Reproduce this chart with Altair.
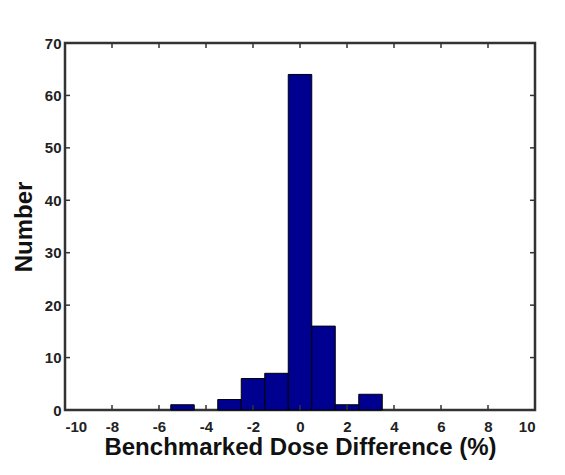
import altair as alt
import pandas as pd

# Histogram data (bin centers, counts), bin width 1
bin_centers = [-5, -3, -2, -1, 0, 1, 2, 3]
counts = [1, 2, 6, 7, 64, 16, 1, 3]
bin_width = 1.0

x_ticks = [-10, -8, -6, -4, -2, 0, 2, 4, 6, 8, 10]
y_ticks = [0, 10, 20, 30, 40, 50, 60, 70]

bars = pd.DataFrame({
    "start": [c - bin_width / 2 for c in bin_centers],
    "end": [c + bin_width / 2 for c in bin_centers],
    "count": counts,
})
xt = pd.DataFrame({"v": x_ticks})
yt = pd.DataFrame({"v": y_ticks})

W, H = 470, 367
FRAME = "#333333"
FONT = "Liberation Sans"

xscale = alt.Scale(domain=[-10, 10], nice=False, zero=False)
yscale = alt.Scale(domain=[0, 70], nice=False)

xaxis = alt.Axis(values=x_ticks, ticks=False, domain=False, grid=False,
                 labelExpr="'' + datum.value",
                 labelFont=FONT, labelFontSize=15, labelFontWeight="bold",
                 labelColor="#222222", labelPadding=9,
                 title="Benchmarked Dose Difference (%)", titleFont=FONT,
                 titleFontSize=24, titleFontWeight="bold", titleColor="#111111",
                 titlePadding=1)
yaxis = alt.Axis(values=y_ticks, ticks=False, domain=False, grid=False,
                 labelFont=FONT, labelFontSize=15, labelFontWeight="bold",
                 labelColor="#222222", labelPadding=4,
                 title="Number", titleFont=FONT, titleFontSize=24,
                 titleFontWeight="bold", titleColor="#111111", titlePadding=8)

hist = alt.Chart(bars).mark_rect(color="#000090", stroke="#000000", strokeWidth=1).encode(
    x=alt.X("start:Q", scale=xscale, axis=xaxis),
    x2="end:Q",
    y=alt.Y("count:Q", scale=yscale, axis=yaxis),
    y2=alt.datum(0),
)

tick_len = 5
bottom_ticks = alt.Chart(xt).mark_rule(color=FRAME, strokeWidth=1.5).encode(
    x=alt.X("v:Q", scale=xscale), y=alt.value(H), y2=alt.value(H - tick_len))
top_ticks = alt.Chart(xt).mark_rule(color=FRAME, strokeWidth=1.5).encode(
    x=alt.X("v:Q", scale=xscale), y=alt.value(0), y2=alt.value(tick_len))
left_ticks = alt.Chart(yt).mark_rule(color=FRAME, strokeWidth=1.5).encode(
    y=alt.Y("v:Q", scale=yscale), x=alt.value(0), x2=alt.value(tick_len))
right_ticks = alt.Chart(yt).mark_rule(color=FRAME, strokeWidth=1.5).encode(
    y=alt.Y("v:Q", scale=yscale), x=alt.value(W), x2=alt.value(W - tick_len))

chart = alt.layer(hist, bottom_ticks, top_ticks, left_ticks, right_ticks).properties(
    width=W, height=H,
    autosize=alt.AutoSizeParams(type="none"),
    padding={"left": 57, "top": 35, "right": 20, "bottom": 57},
    background="white",
).configure_view(stroke=FRAME, strokeWidth=2.5)

chart.save("out.html", embed_options={"renderer": "svg", "actions": False})
